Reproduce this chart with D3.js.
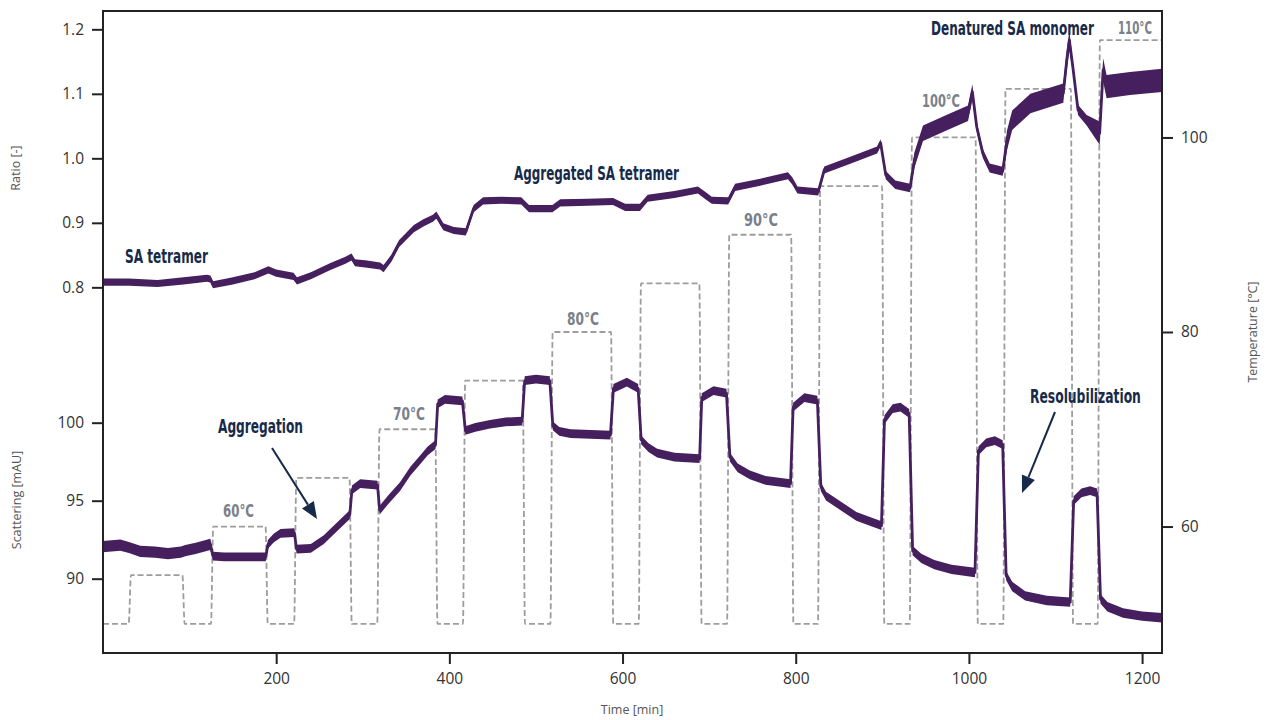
<!doctype html>
<html>
<head>
<meta charset="utf-8">
<style>
  body { margin: 0; background: #fff; }
  svg text { font-family: "Open Sans", "Noto Sans", sans-serif; }
  .tick text { font-size: 15.5px; fill: #333; }
  .tick line { stroke: #222; stroke-width: 2; }
  .title { font-size: 12.5px; fill: #555; }
  .note { font-family: "Liberation Sans Narrow", "DejaVu Sans Condensed", sans-serif; font-weight: bold; }
</style>
<script src="https://d3js.org/d3.v7.min.js"></script>
</head>
<body>
<script>
// temperature programme: baseline 50 °C, heating steps between heatOn and heatOff [min]
var baseTemp = 50;
var stepTemp = [55, 60, 65, 70, 75, 80, 85, 90, 95, 100, 105, 110];
var heatOn  = [31, 126, 222, 318, 417, 518, 620, 722, 827, 933, 1041, 1150];
var heatOff = [93, 189, 286, 385, 486, 588, 690, 796, 901, 1009, 1119, 1223];
var stepLabels = ["60°C", "70°C", "80°C", "90°C", "100°C", "110°C"];

// ratio trace [-]
var ratioTime  = [0, 30, 63, 93, 120, 124, 127, 150, 175, 191, 200, 220, 224, 240, 262, 280, 287, 291, 305, 320,
                  324, 333, 342, 359, 370, 381, 385, 393, 405, 419, 428, 439, 460, 483, 492, 519, 528, 560, 589, 603,
                  620, 629, 660, 687, 695, 703, 722, 730, 759, 791, 796, 802, 826, 833, 863, 894, 898, 904, 915, 932,
                  937, 947, 974, 999, 1004, 1009, 1016, 1024, 1039, 1044, 1050, 1071, 1109, 1113, 1116, 1120, 1126, 1136, 1151, 1155,
                  1159, 1186, 1223];
var ratioValue = [0.808, 0.808, 0.806, 0.810, 0.814, 0.813, 0.804, 0.810, 0.818, 0.827, 0.822, 0.817, 0.810, 0.818, 0.832, 0.842, 0.847, 0.838, 0.836, 0.833,
                  0.829, 0.845, 0.868, 0.891, 0.900, 0.907, 0.912, 0.894, 0.888, 0.886, 0.922, 0.934, 0.935, 0.934, 0.922, 0.922, 0.931, 0.932, 0.933, 0.924,
                  0.924, 0.938, 0.944, 0.951, 0.943, 0.935, 0.934, 0.955, 0.963, 0.973, 0.965, 0.951, 0.948, 0.982, 0.997, 1.013, 1.024, 0.974, 0.959, 0.954,
                  0.997, 1.039, 1.055, 1.070, 1.103, 1.049, 1.008, 0.985, 0.980, 1.028, 1.059, 1.085, 1.101, 1.152, 1.183, 1.142, 1.075, 1.059, 1.039, 1.137,
                  1.111, 1.116, 1.121];

// scattering trace [mAU]
var scatterTime  = [0, 10, 20, 30, 43, 60, 75, 90, 95, 107, 124, 127, 140, 160, 188, 190.5, 197, 205, 221, 223.5,
                    240, 255, 266, 285, 287.5, 297, 317, 319.5, 330, 343, 355, 366, 375, 384, 386.5, 395, 415, 418.5, 430, 447,
                    465, 484, 487, 500, 516, 519.5, 527, 540, 586, 589.5, 605, 618, 621.5, 630, 640, 660, 689, 691.5, 705, 720,
                    724, 733, 747, 765, 794, 797, 810, 825, 829, 835, 851, 870, 899, 902.5, 912, 921, 931, 935, 945, 960,
                    980, 1007, 1011, 1020, 1030, 1039, 1043, 1050, 1065, 1090, 1117, 1121, 1130, 1140, 1148, 1152, 1160, 1178, 1200, 1223];
var scatterValue = [92.05, 92.1, 92.15, 92.0, 91.75, 91.7, 91.6, 91.7, 91.8, 91.95, 92.2, 91.45, 91.4, 91.4, 91.4, 92.2, 92.6, 92.9, 92.95, 91.9,
                    91.95, 92.5, 93.1, 94.1, 95.7, 96.1, 96.0, 94.4, 95.1, 95.9, 96.9, 97.6, 98.2, 98.6, 101.2, 101.5, 101.4, 99.5, 99.7, 99.9,
                    100.05, 100.1, 102.7, 102.8, 102.7, 99.8, 99.45, 99.3, 99.2, 102.2, 102.6, 102.2, 98.9, 98.4, 98.05, 97.8, 97.7, 101.6, 102.05, 101.9,
                    97.8, 97.1, 96.65, 96.3, 96.1, 101.0, 101.6, 101.45, 95.9, 95.3, 94.7, 94.0, 93.4, 100.2, 100.9, 101.0, 100.6, 91.8, 91.3, 90.9,
                    90.6, 90.4, 98.2, 98.7, 98.85, 98.6, 90.2, 89.5, 88.9, 88.6, 88.5, 95.0, 95.5, 95.65, 95.5, 88.7, 88.2, 87.8, 87.6, 87.5];

// spread of the noisy signal (half band) per phase
var noiseTime    = [0, 125, 900, 933, 1009, 1041, 1119, 1150];
var ratioNoise   = [0.0055, 0.0055, 0.0065, 0.012, 0.007, 0.015, 0.008, 0.018];
var scatterNoise = [0.36, 0.28, 0.28, 0.3, 0.28, 0.3, 0.28, 0.3];

var W = 1274, H = 720;
var L = 103, R = 1162, T = 11, B = 653;
var purple = "#46205e", navy = "#172a4a", grey = "#7a8089";

var svg = d3.select("body").append("svg").attr("width", W).attr("height", H);

var x = d3.scaleLinear().domain([0, 1223]).range([L, R]);
var yRatio = d3.scaleLinear().domain([0.2331, 1.2284]).range([B, T]);
var yScat = d3.scaleLinear().domain([85.237, 126.39]).range([B, T]);
var yTemp = d3.scaleLinear().domain([47, 113]).range([B, T]);

svg.append("clipPath").attr("id", "clip")
    .append("rect").attr("x", L).attr("y", T).attr("width", R - L).attr("height", B - T);
var plot = svg.append("g").attr("clip-path", "url(#clip)");

// temperature (dashed)
var tempPts = [[0, baseTemp]];
stepTemp.forEach(function (t, i) {
    tempPts.push([heatOn[i] - 1.3, baseTemp], [heatOn[i] + 1.3, t], [heatOff[i] - 1.3, t]);
    if (i < stepTemp.length - 1) tempPts.push([heatOff[i] + 1.3, baseTemp]);
    else tempPts.push([heatOff[i] + 20, t]);
});
plot.append("path")
    .attr("d", d3.line().curve(d3.curveMonotoneX)
        .x(function (d) { return x(d[0]); }).y(function (d) { return yTemp(d[1]); })(tempPts))
    .attr("fill", "none").attr("stroke", "#9d9d9d").attr("stroke-width", 1.8)
    .attr("stroke-dasharray", "6,3");

function noiseAt(arr, t) {
    return arr[Math.max(0, d3.bisectRight(noiseTime, t) - 1)];
}

function drawTrace(times, values, noise, y) {
    var pts = times.map(function (t, i) { return [t, values[i]]; });
    plot.append("path")
        .attr("d", d3.area()
            .x(function (d) { return x(d[0]); })
            .y0(function (d) { return y(d[1] - noiseAt(noise, d[0])); })
            .y1(function (d) { return y(d[1] + noiseAt(noise, d[0])); })(pts))
        .attr("fill", purple);
    plot.append("path")
        .attr("d", d3.line().x(function (d) { return x(d[0]); }).y(function (d) { return y(d[1]); })(pts))
        .attr("fill", "none").attr("stroke", purple).attr("stroke-width", 2.8)
        .attr("stroke-linejoin", "round");
}
drawTrace(ratioTime, ratioValue, ratioNoise, yRatio);
drawTrace(scatterTime, scatterValue, scatterNoise, yScat);

// axes
function styleAxis(g) { g.select(".domain").remove(); }
svg.append("g").attr("transform", "translate(" + L + ",0)")
    .call(d3.axisLeft(yRatio).tickValues([0.8, 0.9, 1.0, 1.1, 1.2]).tickFormat(d3.format(".1f"))
        .tickSize(11).tickPadding(8)).call(styleAxis);
svg.append("g").attr("transform", "translate(" + L + ",0)")
    .call(d3.axisLeft(yScat).tickValues([90, 95, 100]).tickSize(11).tickPadding(8)).call(styleAxis);
svg.append("g").attr("transform", "translate(" + R + ",0)")
    .call(d3.axisRight(yTemp).tickValues([60, 80, 100]).tickSize(11).tickPadding(8)).call(styleAxis);
svg.append("g").attr("transform", "translate(0," + B + ")")
    .call(d3.axisBottom(x).tickValues([200, 400, 600, 800, 1000, 1200]).tickFormat(d3.format("d"))
        .tickSize(11).tickPadding(9)).call(styleAxis);

svg.append("rect").attr("x", L).attr("y", T).attr("width", R - L).attr("height", B - T)
    .attr("fill", "none").attr("stroke", "#222").attr("stroke-width", 2);

// axis titles
svg.append("text").attr("class", "title").attr("transform", "translate(20,168) rotate(-90)")
    .attr("text-anchor", "middle").text("Ratio [-]");
svg.append("text").attr("class", "title").attr("transform", "translate(21,500) rotate(-90)")
    .attr("text-anchor", "middle").text("Scattering [mAU]");
svg.append("text").attr("class", "title").attr("transform", "translate(1257,332) rotate(-90)")
    .attr("text-anchor", "middle").text("Temperature [°C]");
svg.append("text").attr("class", "title").attr("x", 632).attr("y", 714)
    .attr("text-anchor", "middle").text("Time [min]");

// annotations: condensed text squeezed horizontally to the width seen in the reference
function note(txt, x0, yb, w, size, color) {
    var t = svg.append("text").attr("class", "note")
        .attr("font-size", size).attr("fill", color).text(txt);
    var natural = t.node().getComputedTextLength();
    t.attr("transform", "translate(" + x0 + "," + yb + ") scale(" + (w / natural) + ",1)");
}
note("SA tetramer", 125, 263, 83, 20, navy);
note("Aggregated SA tetramer", 514, 180, 165, 20, navy);
note("Denatured SA monomer", 931, 35, 163, 20, navy);
note("Aggregation", 218, 433, 85, 20, navy);
note("Resolubilization", 1030, 403, 111, 20, navy);

var labelPos = [[223, 517, 31], [393, 420, 32], [567, 325, 32], [744, 226, 34], [922, 107, 38], [1118, 34, 34]];
stepLabels.forEach(function (s, i) {
    note(s, labelPos[i][0], labelPos[i][1], labelPos[i][2], 17, grey);
});

function arrow(x1, y1, x2, y2) {
    var a = Math.atan2(y2 - y1, x2 - x1), len = 17, hw = 7;
    var bx = x2 - len * Math.cos(a), by = y2 - len * Math.sin(a);
    svg.append("line").attr("x1", x1).attr("y1", y1).attr("x2", bx).attr("y2", by)
        .attr("stroke", navy).attr("stroke-width", 2);
    svg.append("polygon").attr("fill", navy).attr("points", [
        [x2, y2],
        [bx + hw * Math.sin(a), by - hw * Math.cos(a)],
        [bx - hw * Math.sin(a), by + hw * Math.cos(a)]
    ].map(function (p) { return p.join(","); }).join(" "));
}
arrow(272, 448, 317, 519);
arrow(1055, 412, 1022, 493);
</script>
</body>
</html>
